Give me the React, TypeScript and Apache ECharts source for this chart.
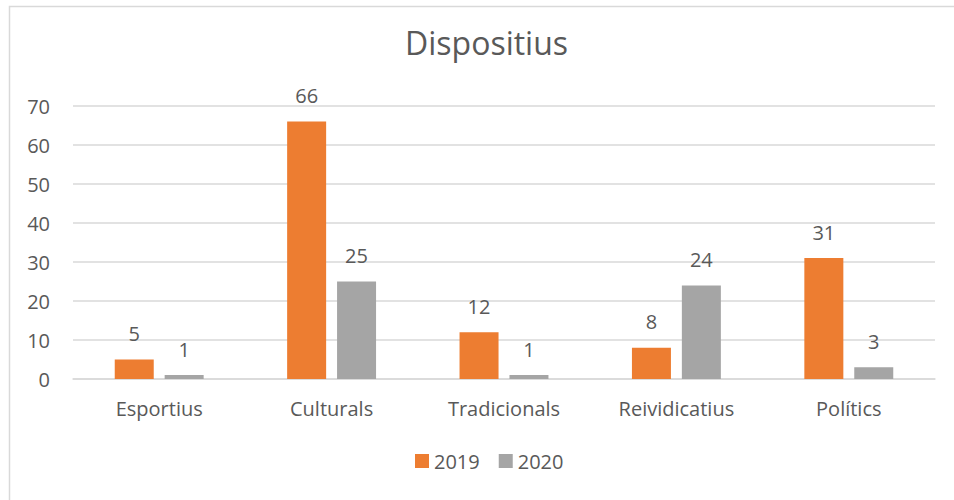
import React, { useEffect, useRef } from "react";
import * as echarts from "echarts";

const categories = ["Esportius", "Culturals", "Tradicionals", "Reividicatius", "Polítics"];
const series2019 = [5, 66, 12, 8, 31];
const series2020 = [1, 25, 1, 24, 3];
const seriesNames = ["2019", "2020"];
const titleText = "Dispositius";

const FONT = "'Open Sans', sans-serif";
const TEXT = "#595959";

export default function App() {
  const ref = useRef<HTMLDivElement>(null);
  useEffect(() => {
    document.body.style.margin = "0";
    const chart = echarts.init(ref.current!, null, { renderer: "svg" });
    const label = {
      show: true,
      position: "top",
      distance: 16,
      color: TEXT,
      fontSize: 20,
      fontFamily: FONT,
    };
    chart.setOption({
      animation: false,
      backgroundColor: "#ffffff",
      textStyle: { fontFamily: FONT },
      title: {
        text: titleText,
        left: 405,
        top: 26,
        padding: 0,
        textStyle: { fontFamily: FONT, fontSize: 32, fontWeight: "normal", color: TEXT },
      },
      graphic: [
        {
          type: "rect",
          shape: { x: 9.5, y: 6.5, width: 1000, height: 600 },
          style: { fill: "none", stroke: "#d9d9d9", lineWidth: 1.5 },
          silent: true,
        },
      ],
      legend: {
        data: seriesNames,
        bottom: 24,
        left: 410,
        itemWidth: 14,
        itemHeight: 14,
        itemGap: 19,
        icon: "rect",
        textStyle: { fontFamily: FONT, fontSize: 20, color: TEXT },
      },
      grid: { left: 73, right: 19, top: 106, bottom: 121, containLabel: false },
      xAxis: {
        type: "category",
        data: categories,
        axisLine: { lineStyle: { color: "#d9d9d9", width: 1.5 } },
        axisTick: { show: false },
        axisLabel: { color: TEXT, fontSize: 20, fontFamily: FONT, margin: 19 },
      },
      yAxis: {
        type: "value",
        min: 0,
        max: 70,
        interval: 10,
        axisLine: { show: false },
        axisTick: { show: false },
        splitLine: { lineStyle: { color: "#d9d9d9", width: 1.5 } },
        axisLabel: { color: TEXT, fontSize: 20, fontFamily: FONT, margin: 23 },
      },
      series: [
        {
          name: seriesNames[0],
          type: "bar",
          data: series2019,
          itemStyle: { color: "#ED7D31" },
          barWidth: 39,
          barGap: "28%",
          label,
        },
        {
          name: seriesNames[1],
          type: "bar",
          data: series2020,
          itemStyle: { color: "#A5A5A5" },
          barWidth: 39,
          barGap: "28%",
          label,
        },
      ],
    });
    return () => chart.dispose();
  }, []);
  return (
    <div
      ref={ref}
      style={{ position: "absolute", left: 0, top: 0, width: 954, height: 500 }}
    />
  );
}
